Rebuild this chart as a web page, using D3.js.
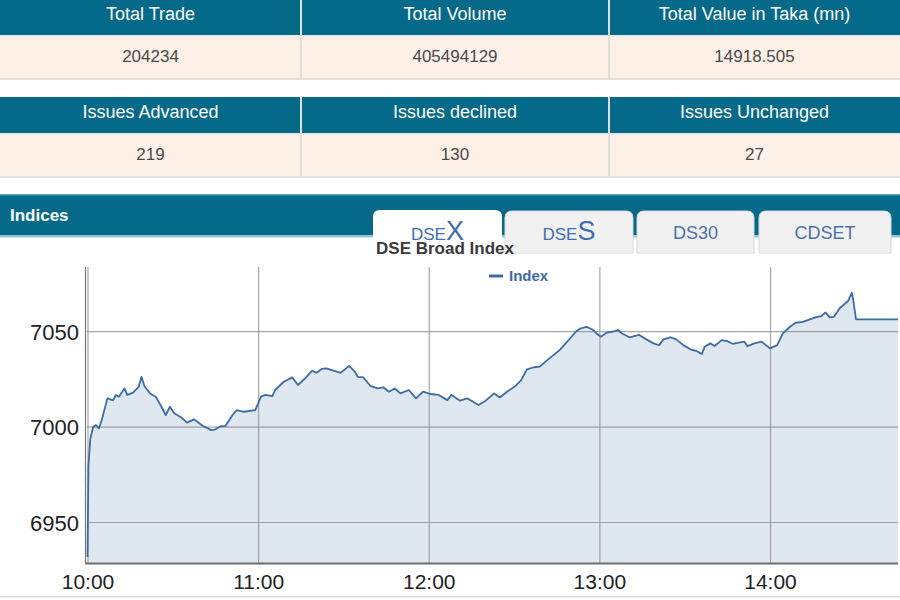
<!DOCTYPE html>
<html>
<head>
<meta charset="utf-8">
<script src="https://cdn.jsdelivr.net/npm/d3@7/dist/d3.min.js"></script>
<style>
  html, body { margin: 0; padding: 0; background: #fff; }
  svg { display: block; font-family: "Liberation Sans", Arial, sans-serif; }
</style>
</head>
<body>
<svg id="chart" width="900" height="600"></svg>
<script>
// ---- data ----
const tradeLabels = ["Total Trade", "Total Volume", "Total Value in Taka (mn)"];
const tradeValues = ["204234", "405494129", "14918.505"];
const issueLabels = ["Issues Advanced", "Issues declined", "Issues Unchanged"];
const issueValues = ["219", "130", "27"];
const sectionTitle = "Indices";
const tabNames = ["DSEX", "DSES", "DS30", "CDSET"];
const chartTitle = "DSE Broad Index";
const seriesName = "Index";
const xTickLabels = ["10:00", "11:00", "12:00", "13:00", "14:00"];
const yTickValues = [6950, 7000, 7050];
const times = [
  "10:00:00","10:00:20","10:01:00","10:02:00","10:03:00","10:04:00","10:05:00","10:07:00","10:09:00","10:10:00",
  "10:11:00","10:13:00","10:14:00","10:16:00","10:18:00","10:19:00","10:20:00","10:22:00","10:24:00","10:26:00",
  "10:27:30","10:29:00","10:30:30","10:33:00","10:35:00","10:37:30","10:40:30","10:43:30","10:45:00","10:47:00",
  "10:48:30","10:51:00","10:52:30","10:55:00","10:59:00","11:01:00","11:02:30","11:05:00","11:06:00","11:09:00",
  "11:12:00","11:14:00","11:16:30","11:19:00","11:20:30","11:22:30","11:24:00","11:26:30","11:29:00","11:30:30",
  "11:32:00","11:34:00","11:35:00","11:37:00","11:39:30","11:42:00","11:44:00","11:46:00","11:48:00","11:50:00",
  "11:53:00","11:55:30","11:58:00","12:00:30","12:03:30","12:06:30","12:08:00","12:11:00","12:13:30","12:15:00",
  "12:17:30","12:20:00","12:23:00","12:25:00","12:27:30","12:30:30","12:32:30","12:34:30","12:37:00","12:39:00",
  "12:42:00","12:46:00","12:49:00","12:52:00","12:53:30","12:55:30","12:57:30","12:59:00","13:00:30","13:02:30",
  "13:04:30","13:06:30","13:08:00","13:10:30","13:14:00","13:16:30","13:19:00","13:21:00","13:22:30","13:25:00",
  "13:27:00","13:29:30","13:32:00","13:34:00","13:36:00","13:37:00","13:39:00","13:40:30","13:43:00","13:45:00",
  "13:47:00","13:48:30","13:51:00","13:52:00","13:54:30","13:57:00","14:00:00","14:02:30","14:04:30","14:07:00",
  "14:09:00","14:11:30","14:14:00","14:16:00","14:18:00","14:19:30","14:21:00","14:22:30","14:24:30","14:26:30",
  "14:27:30","14:28:00","14:28:45","14:29:15","14:30:15","14:45:00"
];
const values = [
  6932,6980,6994,7000,7001,6999.3,7003.7,7015,7014,7016.8,
  7015.9,7020.2,7016.8,7018,7021,7026.3,7021.5,7017.6,7015.9,7010.6,
  7006.3,7010.6,7007.2,7005,7002.3,7004,7000.7,6998.4,6998.8,7000.5,
  7000.5,7006.3,7008.9,7008,7008.9,7015.9,7016.8,7016.2,7019.4,7023.7,
  7026,7022,7025.5,7029.5,7028.4,7030.5,7030.7,7029.5,7028.4,7030.2,
  7032,7029,7026.3,7026,7021.5,7020.2,7020.8,7018.5,7020.2,7017.6,
  7019.4,7015,7018.5,7017.3,7016.8,7014.1,7016.8,7013.8,7015,7013.8,
  7011.5,7013.8,7017.6,7015.5,7018.5,7021.5,7024.6,7030.2,7031.3,7031.6,
  7035.4,7040.3,7045.2,7050.4,7051.7,7052.5,7051.1,7049,7047.3,7049.4,
  7049.9,7050.8,7049,7047,7048.2,7045.9,7043.8,7042.9,7045.9,7047,
  7045.9,7042.9,7040.7,7039.9,7038.2,7042,7043.8,7042.4,7045.5,7045,
  7043.5,7044.1,7044.7,7042.4,7043.8,7044.7,7041.2,7042.9,7049,7052.5,
  7054.6,7055.1,7056.4,7057.4,7058.1,7060,7057.4,7057.7,7062.2,7064.8,
  7066.1,7067.9,7070.3,7066.5,7056.4,7056.4
];

// ---- drawing ----
const svg = d3.select("#chart");
const teal = "#05698a";
const cream = "#fdf1e7";

// stat tables
const colEdges = [0, 301, 609, 900];
function drawTable(top, labels, vals) {
  const g = svg.append("g");
  const hh = 36, rh = 41;
  labels.forEach((lab, i) => {
    const x0 = colEdges[i], x1 = colEdges[i + 1];
    g.append("rect").attr("x", x0).attr("y", top).attr("width", x1 - x0).attr("height", hh).attr("fill", teal);
    g.append("rect").attr("x", x0).attr("y", top + hh).attr("width", x1 - x0).attr("height", 2).attr("fill", "#e6ebe8");
    g.append("rect").attr("x", x0).attr("y", top + hh + 2).attr("width", x1 - x0).attr("height", rh).attr("fill", cream);
    g.append("text").attr("x", (x0 + x1) / 2).attr("y", top + 21).attr("text-anchor", "middle")
      .attr("fill", "#fff").attr("font-size", 18).text(lab);
    g.append("text").attr("x", (x0 + x1) / 2).attr("y", top + hh + 27).attr("text-anchor", "middle")
      .attr("fill", "#4a4a4a").attr("font-size", 17).text(vals[i]);
  });
  [301, 609].forEach(x => {
    g.append("rect").attr("x", x - 1).attr("y", top).attr("width", 2).attr("height", hh + 2 + rh).attr("fill", "#e2ddd6");
  });
  g.append("rect").attr("x", 0).attr("y", top + hh + 2 + rh).attr("width", 900).attr("height", 2).attr("fill", "#e4e0da");
}
drawTable(-1, tradeLabels, tradeValues);
drawTable(97, issueLabels, issueValues);

// indices bar
svg.append("rect").attr("x", 0).attr("y", 194).attr("width", 900).attr("height", 42).attr("fill", teal);
svg.append("rect").attr("x", 0).attr("y", 194).attr("width", 900).attr("height", 1.5).attr("fill", "#5fa3b8");
svg.append("rect").attr("x", 0).attr("y", 235).attr("width", 900).attr("height", 2.5).attr("fill", "#8fc6d3");
svg.append("text").attr("x", 10).attr("y", 221).attr("fill", "#fff").attr("font-size", 17)
  .attr("font-weight", "bold").text(sectionTitle);

// tabs
const tabBoxes = [[373, 502], [505, 633], [637, 754], [759, 891]];
const tabG = svg.append("g");
tabNames.forEach((name, i) => {
  const [x0, x1] = tabBoxes[i];
  const active = i === 0;
  const top = active ? 210 : 211;
  const bot = active ? 262 : 253;
  const r = 7;
  const p = `M${x0},${bot} L${x0},${top + r} Q${x0},${top} ${x0 + r},${top} L${x1 - r},${top} Q${x1},${top} ${x1},${top + r} L${x1},${bot} Z`;
  tabG.append("path").attr("d", p).attr("fill", active ? "#fff" : "#f1f1f1")
    .attr("stroke", active ? "none" : "#d8d8d8").attr("stroke-width", 1);
  const cx = (x0 + x1) / 2;
  const t = tabG.append("text").attr("x", cx).attr("y", 240).attr("text-anchor", "middle").attr("fill", "#3d6db3");
  if (name === "DSEX" || name === "DSES") {
    t.append("tspan").attr("font-size", 17).text(name.slice(0, 3));
    t.append("tspan").attr("font-size", 27).text(name.slice(3));
  } else {
    t.attr("font-size", 18).attr("y", 239).attr("fill", "#4a72ac").text(name);
  }
});

// chart
const x = d3.scaleTime()
  .domain([d3.timeParse("%H:%M")("10:00"), d3.timeParse("%H:%M")("14:45")])
  .range([87.5, 898]);
const y = d3.scaleLinear().domain([6928.8, 7083.8]).range([563, 267]);
const parseT = d3.timeParse("%H:%M:%S");
const data = times.map((t, i) => ({ t: parseT(t), v: values[i] }));

// area
const area = d3.area().x(d => x(d.t)).y0(563).y1(d => y(d.v));
svg.append("path").datum(data).attr("d", area).attr("fill", "#dfe7f1");

// gridlines
const xTickDates = xTickLabels.map(s => d3.timeParse("%H:%M")(s));
svg.append("g").selectAll("line").data(yTickValues).join("line")
  .attr("x1", 87).attr("x2", 898).attr("y1", d => y(d)).attr("y2", d => y(d))
  .attr("stroke", "#8a8a8a").attr("stroke-opacity", 0.75).attr("stroke-width", 1.2);
svg.append("g").selectAll("line").data(xTickDates).join("line")
  .attr("x1", d => x(d) + 0.5).attr("x2", d => x(d) + 0.5).attr("y1", 267).attr("y2", 563)
  .attr("stroke", "#8a8a8a").attr("stroke-opacity", 0.75).attr("stroke-width", 1.2);
svg.append("line").attr("x1", 85.5).attr("x2", 85.5).attr("y1", 267).attr("y2", 563)
  .attr("stroke", "#777").attr("stroke-width", 1.2);
svg.append("line").attr("x1", 85).attr("x2", 898).attr("y1", 563.5).attr("y2", 563.5)
  .attr("stroke", "#6f6f6f").attr("stroke-width", 1.8);

// line
const line = d3.line().x(d => x(d.t)).y(d => y(d.v));
svg.append("path").datum(data).attr("d", line).attr("fill", "none")
  .attr("stroke", "#3c6ca6").attr("stroke-width", 1.8).attr("stroke-linejoin", "round");

// axes labels
const yAxis = d3.axisLeft(y).tickValues(yTickValues).tickSize(0).tickPadding(0).tickFormat(d3.format("d"));
const yg = svg.append("g").attr("transform", "translate(79,0)").call(yAxis);
yg.select(".domain").remove();
yg.selectAll("text").attr("font-size", 22).attr("fill", "#222")
  .attr("font-family", "Liberation Sans, Arial, sans-serif").attr("dy", "0.36em");

const xAxis = d3.axisBottom(x).tickValues(xTickDates).tickSize(0).tickPadding(0).tickFormat(d3.timeFormat("%H:%M"));
const xg = svg.append("g").attr("transform", "translate(0,574)").call(xAxis);
xg.select(".domain").remove();
xg.selectAll("text").attr("font-size", 21).attr("fill", "#222")
  .attr("font-family", "Liberation Sans, Arial, sans-serif").attr("dy", "0.72em");

svg.append("rect").attr("x", 0).attr("y", 596).attr("width", 900).attr("height", 1.5).attr("fill", "#d9d9d9");

// chart title
svg.append("text").attr("x", 445).attr("y", 254).attr("text-anchor", "middle")
  .attr("font-size", 17).attr("font-weight", "bold").attr("fill", "#3a3a3a").text(chartTitle);

// legend
svg.append("line").attr("x1", 489).attr("x2", 503).attr("y1", 276).attr("y2", 276)
  .attr("stroke", "#3c6ca6").attr("stroke-width", 3);
svg.append("text").attr("x", 509).attr("y", 281).attr("font-size", 15).attr("font-weight", "bold")
  .attr("fill", "#3c6ca6").text(seriesName);
</script>
</body>
</html>
